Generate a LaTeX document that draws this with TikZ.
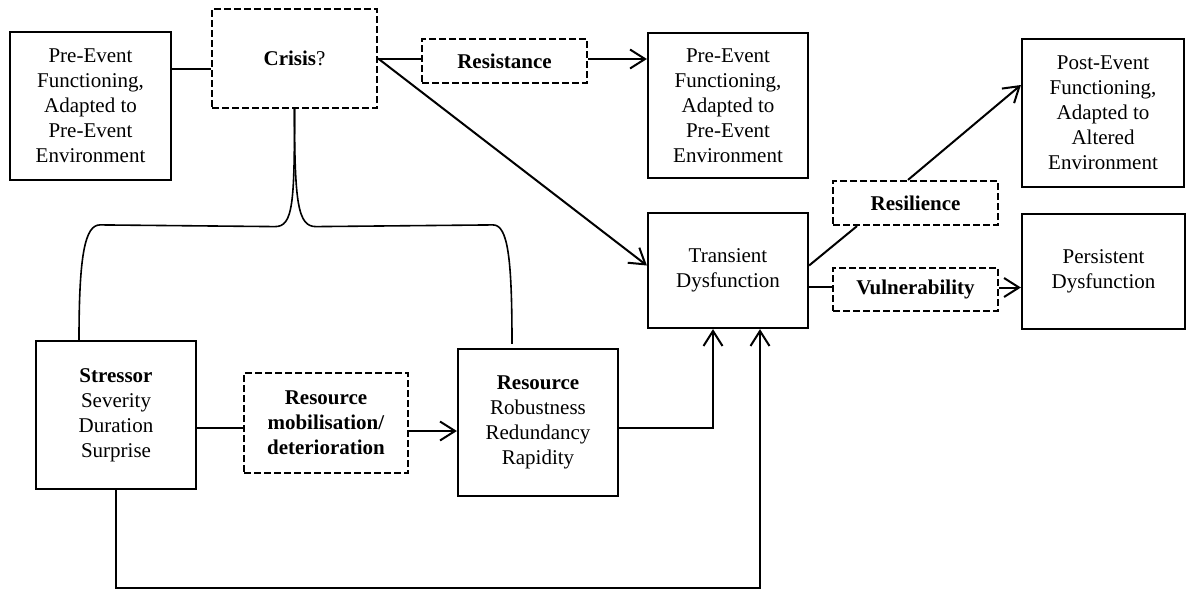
\documentclass[tikz,border=0pt]{standalone}
\usepackage{fontspec}
\setmainfont{Liberation Serif}
\usetikzlibrary{arrows.meta,calc}
\begin{document}
\begin{tikzpicture}[x=1pt,y=-1pt,
  every node/.style={font=\fontsize{21}{25}\selectfont, align=center, inner sep=0pt},
  solidbox/.style={draw, line width=2.2pt},
  dashbox/.style={draw, line width=2.2pt, dash pattern=on 7pt off 3pt},
  conn/.style={line width=2pt},
  arr/.style={line width=2pt, -{Straight Barb[length=15pt,width=19pt,line width=2pt]}},
  brace/.style={line width=1.6pt}]
\useasboundingbox (0,0) rectangle (1187,595);

% boxes
\node[solidbox, minimum width=161pt, minimum height=148pt] (A) at (90.5,106)
  {Pre-Event\\Functioning,\\Adapted to\\Pre-Event\\Environment};
\node[dashbox, minimum width=165pt, minimum height=99pt] (crisis) at (294.5,58.5)
  {\textbf{Crisis}?};
\node[dashbox, minimum width=165pt, minimum height=44pt] (resist) at (504.5,61)
  {\textbf{Resistance}};
\node[solidbox, minimum width=160pt, minimum height=145pt] (B) at (728,105.5)
  {Pre-Event\\Functioning,\\Adapted to\\Pre-Event\\Environment};
\node[solidbox, minimum width=160pt, minimum height=115pt] (T) at (728,270.5)
  {Transient\\Dysfunction};
\node[dashbox, minimum width=165pt, minimum height=44pt] (resil) at (915.5,203)
  {\textbf{Resilience}};
\node[dashbox, minimum width=165pt, minimum height=43pt] (vuln) at (915.5,289.5)
  {\textbf{Vulnerability}};
\node[solidbox, minimum width=162pt, minimum height=148pt] (post) at (1103,113)
  {Post-Event\\Functioning,\\Adapted to\\Altered\\Environment};
\node[solidbox, minimum width=163pt, minimum height=115pt] (persist) at (1103.5,271.5)
  {Persistent\\Dysfunction};
\node[solidbox, minimum width=160pt, minimum height=148pt] (stressor) at (116,415)
  {\textbf{Stressor}\\Severity\\Duration\\Surprise};
\node[dashbox, minimum width=164pt, minimum height=100pt] (mob) at (326,423)
  {\textbf{Resource}\\\textbf{mobilisation/}\\\textbf{deterioration}};
\node[solidbox, minimum width=160pt, minimum height=147pt] (res) at (538,422.5)
  {\textbf{Resource}\\Robustness\\Redundancy\\Rapidity};

% anchor points for connectors
\coordinate (aOut) at ($(A.east)+(0,-37)$);
\coordinate (rsOut) at ($(resist.east)+(0,-2)$);
\coordinate (tIn) at ($(T.west)+(0,-5)$);
\coordinate (tRes) at ($(T.east)+(0,-5)$);
\coordinate (resIn) at ($(resil.south)+(-58.5,0)$);
\coordinate (resOut) at ($(resil.north)+(-7.5,0)$);
\coordinate (postIn) at ($(post.west)+(0,-28)$);
\coordinate (tVul) at ($(T.east)+(0,16.5)$);
\coordinate (vOut) at ($(vuln.east)+(0,-2)$);
\coordinate (sOut) at ($(stressor.east)+(0,13)$);
\coordinate (mOut) at ($(mob.east)+(0,8)$);
\coordinate (rOut) at ($(res.east)+(0,5.5)$);
\coordinate (tIn1) at ($(T.south)+(-15,0)$);
\coordinate (tIn2) at ($(T.south)+(32,0)$);
\coordinate (loop) at ($(stressor.south)+(0,98)$);

% connectors
\draw[conn] (aOut) -- (aOut -| crisis.west);
\draw[conn] (crisis.east) -- (crisis.east -| resist.west);
\draw[arr] (rsOut) -- (rsOut -| B.west);
\draw[arr] (crisis.east) -- (tIn);
\draw[conn] (tRes) -- (resIn);
\draw[arr] (resOut) -- (postIn);
\draw[conn] (tVul) -- (tVul -| vuln.west);
\draw[arr] (vOut) -- (vOut -| persist.west);
\draw[conn] (sOut) -- (sOut -| mob.west);
\draw[arr] (mOut) -- (mOut -| res.west);
\draw[arr] (rOut) -| (tIn1);
\draw[arr] (stressor.south) -- (loop) -| (tIn2);

% brace
\coordinate (bL) at ($(stressor.north)+(-37,0)$);
\coordinate (bR) at ($(res.north)+(-26,-4)$);
\coordinate (cL) at ($(crisis.south)+(-19.5,117.5)$);
\coordinate (cR) at ($(crisis.south)+(21.5,117.5)$);
\coordinate (kL) at ($(bL)+(21,-115)$);
\coordinate (kR) at ($(bR)+(-19,-119)$);
\draw[brace] (crisis.south) .. controls +(0,95) and +(18,0) .. (cL)
  -- (kL) .. controls +(-15,0) and +(0,-85) .. (bL);
\draw[brace] (crisis.south) .. controls +(0,95) and +(-18,0) .. (cR)
  -- (kR) .. controls +(15,0) and +(0,-85) .. (bR);
\end{tikzpicture}
\end{document}
